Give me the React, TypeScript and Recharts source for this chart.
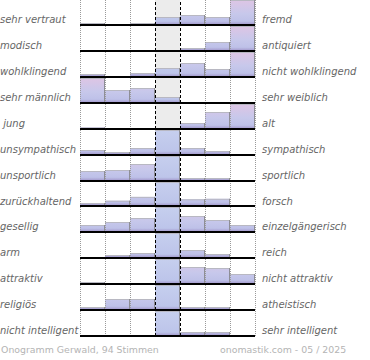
import React from 'react';
import { BarChart, Bar, XAxis, YAxis, ReferenceLine, Cell } from 'recharts';

// 7-step scale from left adjective to right adjective
const categories = ['1', '2', '3', '4', '5', '6', '7'];

const leftLabels = [
  'sehr vertraut', 'modisch', 'wohlklingend', 'sehr männlich', ' jung',
  'unsympathisch', 'unsportlich', 'zurückhaltend', 'gesellig', 'arm',
  'attraktiv', 'religiös', 'nicht intelligent',
];
const rightLabels = [
  'fremd', 'antiquiert', 'nicht wohlklingend', 'sehr weiblich', 'alt',
  'sympathisch', 'sportlich', 'forsch', 'einzelgängerisch', 'reich',
  'nicht attraktiv', 'atheistisch', 'sehr intelligent',
];

// relative share per step (25 = full row)
const vertraut = [2, 0, 2, 8, 10, 8, 25];
const modisch = [1, 0, 0, 0, 3, 9, 25];
const wohlklingend = [3, 0, 4, 9, 14, 8, 25];
const maennlich = [25, 13, 15, 6, 1, 0, 0];
const jung = [1.5, 0, 0, 0, 6, 17, 25];
const sympathisch = [5, 3, 7, 25, 7, 4, 1];
const sportlich = [10, 11, 17, 25, 3, 3, 1];
const forsch = [3, 5.5, 9.5, 25, 7, 7.5, 1];
const gesellig = [7, 10, 14, 25, 16, 12, 7];
const arm = [1, 3, 5, 25, 8, 4, 0];
const attraktiv = [2, 0, 0, 25, 17, 16, 10];
const religioes = [3, 11, 11, 25, 3, 3, 0];
const intelligent = [1, 1, 1, 25, 4, 4, 0];

const rows = [
  vertraut, modisch, wohlklingend, maennlich, jung, sympathisch, sportlich,
  forsch, gesellig, arm, attraktiv, religioes, intelligent,
];

const footerLeft = 'Onogramm Gerwald, 94 Stimmen';
const footerRight = 'onomastik.com - 05 / 2025';

const ROW_H = 25.93;
const rowTop = (k: number) => Math.round(k * ROW_H);

const BarShape = (p: any) => {
  const { x, y, width, height, fill } = p;
  if (!height || height <= 0) return <g />;
  return (
    <g>
      <rect x={x} y={y} width={width} height={height} fill={fill} />
      <line x1={x} x2={x + width} y1={y + 0.5} y2={y + 0.5} stroke="#b8b8c2" />
      <line x1={x + width - 0.5} x2={x + width - 0.5} y1={y} y2={y + height} stroke="#8e8e96" />
    </g>
  );
};

const MidBackground = (p: any) =>
  p.index === 3 ? <rect x={p.x} y={p.y} width={p.width} height={p.height} fill="#ececec" /> : <g />;

function Row({ values, k }: { values: number[]; k: number }) {
  const h = rowTop(k + 1) - rowTop(k);
  const data = categories.map((c, i) => ({ cat: c, v: values[i] }));
  const plotH = h - 1;
  const dotted = { stroke: '#9a9a9a', strokeDasharray: '1 1', strokeWidth: 1, shapeRendering: 'crispEdges' };
  const dashed = { stroke: '#000', strokeDasharray: '3 2', strokeWidth: 1, shapeRendering: 'crispEdges' };
  return (
    <div style={{ position: 'absolute', left: 0, top: rowTop(k), width: 370, height: h }}>
      <BarChart
        width={370}
        height={h}
        data={data}
        margin={{ top: 0, right: 115, bottom: 1, left: 80 }}
        barCategoryGap={0}
        barGap={0}
      >
        <defs>
          <linearGradient id={`side${k}`} gradientUnits="userSpaceOnUse" x1="0" y1="0" x2="0" y2={plotH}>
            <stop offset="0" stopColor="#dec5e4" />
            <stop offset="0.55" stopColor="#c7c8eb" />
            <stop offset="0.85" stopColor="#bec1e8" />
            <stop offset="1" stopColor="#9f93c8" />
          </linearGradient>
          <linearGradient id={`mid${k}`} gradientUnits="userSpaceOnUse" x1="0" y1="0" x2="0" y2={plotH}>
            <stop offset="0" stopColor="#c6cfee" />
            <stop offset="0.85" stopColor="#bdc5ea" />
            <stop offset="1" stopColor="#9f93c8" />
          </linearGradient>
        </defs>
        <XAxis dataKey="cat" hide />
        <YAxis hide domain={[0, 25]} allowDataOverflow />
        <Bar dataKey="v" isAnimationActive={false} shape={BarShape} background={MidBackground}>
          {data.map((d, i) => (
            <Cell key={d.cat} fill={i === 3 ? `url(#mid${k})` : `url(#side${k})`} />
          ))}
        </Bar>
        <ReferenceLine x="1" position="start" {...dotted} />
        <ReferenceLine x="2" position="start" {...dotted} />
        <ReferenceLine x="3" position="start" {...dotted} />
        <ReferenceLine x="6" position="start" {...dotted} />
        <ReferenceLine x="7" position="start" {...dotted} />
        <ReferenceLine x="7" position="end" {...dotted} />
        <ReferenceLine x="4" position="start" {...dashed} />
        <ReferenceLine x="4" position="end" {...dashed} />
        <ReferenceLine y={0} stroke="#000" strokeWidth={2} />
      </BarChart>
    </div>
  );
}

const labelStyle: React.CSSProperties = {
  position: 'absolute',
  fontFamily: '"DejaVu Sans", sans-serif',
  fontStyle: 'italic',
  fontSize: 10,
  lineHeight: '12px',
  color: '#666',
  whiteSpace: 'pre',
};

const footStyle: React.CSSProperties = {
  position: 'absolute',
  fontFamily: '"DejaVu Sans", sans-serif',
  fontSize: 9.4,
  lineHeight: '12px',
  color: '#b4b4b4',
  whiteSpace: 'pre',
  top: 344,
};

export default function App() {
  return (
    <div style={{ position: 'absolute', left: 0, top: 0, width: 370, height: 360, background: '#fff', overflow: 'hidden' }}>
      {rows.map((values, k) => (
        <Row key={k} values={values} k={k} />
      ))}
      {leftLabels.map((t, k) => (
        <div key={`l${k}`} style={{ ...labelStyle, left: 0, top: rowTop(k) + 14 }}>{t}</div>
      ))}
      {rightLabels.map((t, k) => (
        <div key={`r${k}`} style={{ ...labelStyle, left: 262, top: rowTop(k) + 14 }}>{t}</div>
      ))}
      <div style={{ ...footStyle, left: 1 }}>{footerLeft}</div>
      <div style={{ ...footStyle, left: 220 }}>{footerRight}</div>
    </div>
  );
}
